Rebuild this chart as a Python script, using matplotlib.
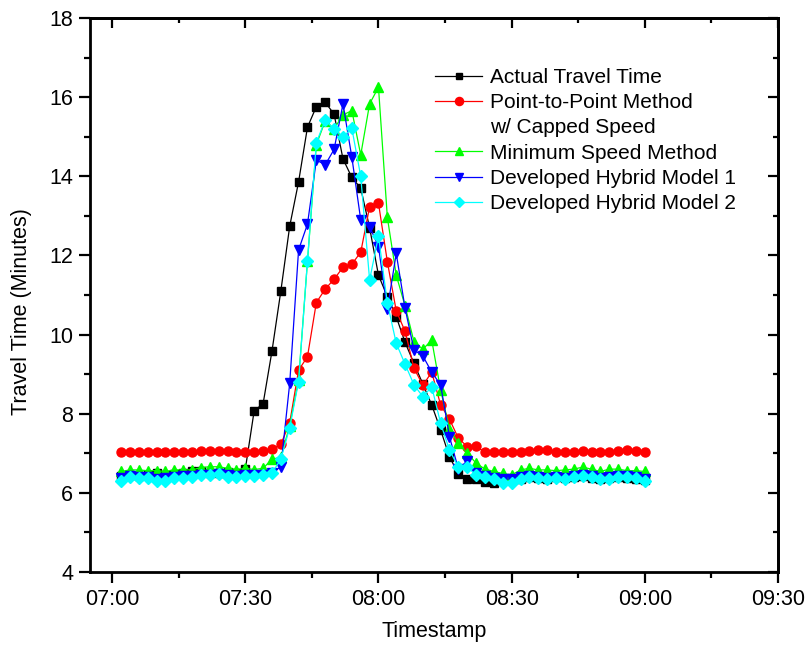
import numpy as np
import matplotlib
matplotlib.use("Agg")
import matplotlib.pyplot as plt
from matplotlib.lines import Line2D
from matplotlib.ticker import MultipleLocator, FuncFormatter

plt.rcParams['font.family'] = ['Liberation Sans', 'DejaVu Sans']

# sample times, minutes after midnight (07:02 .. 09:00, every 2 min)
minutes = np.arange(422, 541, 2)

actual = [6.42, 6.45, 6.42, 6.45, 6.50, 6.45, 6.48, 6.50, 6.55, 6.55,
          6.50, 6.50, 6.52, 6.50, 6.60, 8.08, 8.25, 9.58, 11.10, 12.74,
          13.86, 15.24, 15.76, 15.87, 15.57, 14.44, 13.97, 13.70, 12.70, 11.50,
          10.96, 10.45, 9.80, 9.27, 8.75, 8.22, 7.59, 6.91, 6.48, 6.35,
          6.35, 6.27, 6.25, 6.35, 6.38, 6.35, 6.40, 6.38, 6.35, 6.40,
          6.38, 6.40, 6.42, 6.38, 6.35, 6.38, 6.40, 6.38, 6.35, 6.32]

p2p_capped = [7.02, 7.04, 7.02, 7.02, 7.04, 7.02, 7.03, 7.03, 7.03, 7.06,
              7.06, 7.06, 7.06, 7.03, 7.03, 7.04, 7.06, 7.10, 7.23, 7.77,
              9.10, 9.44, 10.81, 11.15, 11.40, 11.70, 11.78, 12.08, 13.23, 13.32,
              11.84, 10.60, 10.08, 9.15, 8.72, 9.05, 8.22, 7.86, 7.38, 7.17,
              7.18, 7.02, 7.02, 7.02, 7.02, 7.04, 7.06, 7.08, 7.08, 7.02,
              7.02, 7.04, 7.06, 7.04, 7.02, 7.04, 7.07, 7.08, 7.06, 7.02]

min_speed = [6.54, 6.58, 6.58, 6.56, 6.56, 6.54, 6.58, 6.58, 6.58, 6.64,
             6.66, 6.66, 6.62, 6.59, 6.62, 6.59, 6.62, 6.85, 6.90, 7.70,
             8.85, 11.85, 14.80, 15.40, 15.20, 15.55, 15.66, 14.54, 15.83, 16.25,
             12.96, 11.50, 10.72, 9.82, 9.63, 9.86, 8.60, 7.61, 7.25, 7.00,
             6.75, 6.60, 6.54, 6.49, 6.45, 6.58, 6.62, 6.58, 6.58, 6.56,
             6.58, 6.60, 6.65, 6.60, 6.54, 6.60, 6.60, 6.56, 6.56, 6.54]

hybrid1 = [6.38, 6.42, 6.40, 6.40, 6.36, 6.38, 6.40, 6.42, 6.42, 6.45,
           6.46, 6.48, 6.44, 6.42, 6.44, 6.45, 6.46, 6.50, 6.66, 8.77,
           12.14, 12.79, 14.41, 14.29, 14.68, 15.83, 14.48, 12.90, 12.73, 12.22,
           10.64, 12.05, 10.66, 9.61, 9.46, 9.05, 8.73, 7.42, 6.60, 6.81,
           6.50, 6.42, 6.38, 6.35, 6.35, 6.40, 6.42, 6.40, 6.38, 6.40,
           6.38, 6.42, 6.45, 6.42, 6.38, 6.40, 6.42, 6.42, 6.40, 6.35]

hybrid2 = [6.31, 6.39, 6.37, 6.37, 6.31, 6.31, 6.37, 6.37, 6.39, 6.45,
           6.45, 6.48, 6.39, 6.39, 6.42, 6.42, 6.45, 6.50, 6.85, 7.65,
           8.81, 11.86, 14.85, 15.42, 15.19, 15.00, 15.21, 14.00, 11.38, 12.49,
           10.80, 9.78, 9.25, 8.73, 8.43, 8.68, 7.76, 7.08, 6.65, 6.65,
           6.45, 6.41, 6.34, 6.26, 6.26, 6.34, 6.39, 6.37, 6.34, 6.37,
           6.34, 6.39, 6.43, 6.39, 6.34, 6.34, 6.39, 6.39, 6.37, 6.31]

fig = plt.figure(figsize=(8.07, 6.5), dpi=100)
ax = fig.add_axes([0.1115, 0.12, 0.8525, 0.8523])

lw = 0.9
ax.plot(minutes, actual, color='black', marker='s', ms=5.5, lw=lw,
        label='Actual Travel Time')
ax.plot(minutes, p2p_capped, color='#ff0000', marker='o', ms=6.5, lw=lw,
        label='Point-to-Point Method')
ax.plot(minutes, min_speed, color='#00ff00', marker='^', ms=7, lw=lw,
        label='Minimum Speed Method')
ax.plot(minutes, hybrid1, color='#0000ff', marker='v', ms=7, lw=lw,
        label='Developed Hybrid Model 1')
ax.plot(minutes, hybrid2, color='#00ffff', marker='D', ms=5.8, lw=lw,
        label='Developed Hybrid Model 2')

ax.set_xlim(415, 570)
ax.set_ylim(4, 18)
ax.xaxis.set_major_locator(MultipleLocator(30))
ax.xaxis.set_minor_locator(MultipleLocator(15))
ax.yaxis.set_major_locator(MultipleLocator(2))
ax.yaxis.set_minor_locator(MultipleLocator(1))
ax.xaxis.set_major_formatter(FuncFormatter(lambda m, _: '%02d:%02d' % (m // 60, m % 60)))

for s in ax.spines.values():
    s.set_linewidth(2)
ax.tick_params(axis='both', which='major', direction='out', length=8, width=1.6,
               labelsize=15.5, pad=4, top=False, right=False)
ax.tick_params(axis='both', which='minor', direction='out', length=4.5, width=1.6,
               top=False, right=False)

# inward ticks on the top and right frame, no labels
tx = ax.secondary_xaxis('top')
tx.xaxis.set_major_locator(MultipleLocator(30))
tx.xaxis.set_minor_locator(MultipleLocator(15))
tx.tick_params(which='major', direction='in', length=7, width=1.6, labeltop=False)
tx.tick_params(which='minor', direction='in', length=3.5, width=1.6)
tx.spines['top'].set_linewidth(2)
ty = ax.secondary_yaxis('right')
ty.yaxis.set_major_locator(MultipleLocator(2))
ty.yaxis.set_minor_locator(MultipleLocator(1))
ty.tick_params(which='major', direction='in', length=7, width=1.6, labelright=False)
ty.tick_params(which='minor', direction='in', length=3.5, width=1.6)
ty.spines['right'].set_linewidth(2)

ax.set_xlabel('Timestamp', fontsize=15.5, labelpad=8)
ax.set_ylabel('Travel Time (Minutes)', fontsize=15.5)
ax.yaxis.set_label_coords(-0.085, 0.47)

handles, labels = ax.get_legend_handles_labels()
blank = Line2D([], [], linestyle='none', marker='none')
handles.insert(2, blank)
labels.insert(2, 'w/ Capped Speed')
ax.legend(handles, labels, loc='upper left', bbox_to_anchor=(0.49, 0.925),
          frameon=False, fontsize=15, handlelength=2.25, handletextpad=0.35,
          labelspacing=0.3, borderaxespad=0, markerscale=0.9)

fig.savefig('out.png', dpi=100)
